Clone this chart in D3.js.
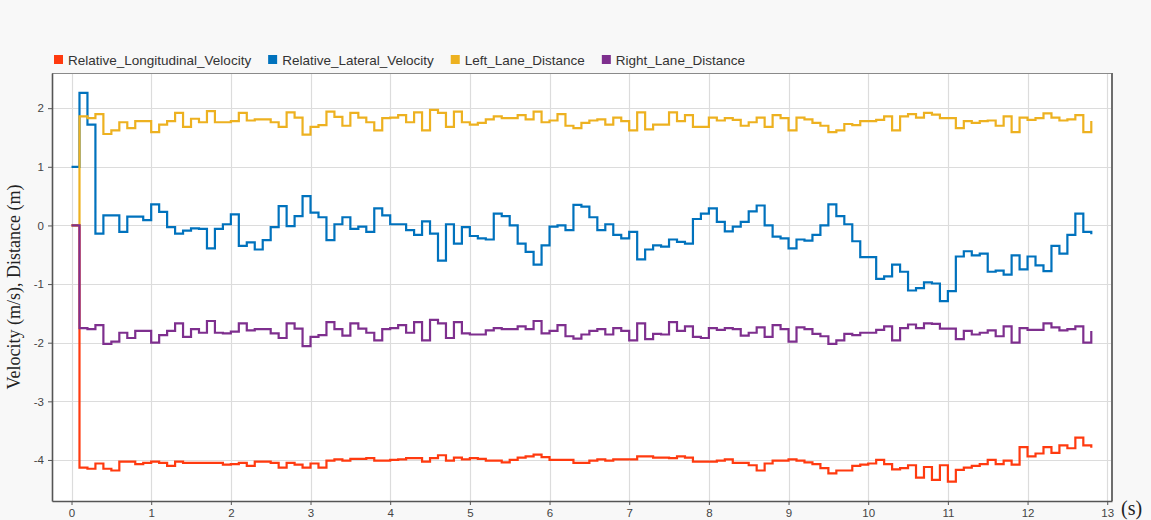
<!DOCTYPE html>
<html>
<head>
<meta charset="utf-8">
<script src="https://cdn.jsdelivr.net/npm/d3@7"></script>
<style>
  html, body { margin: 0; padding: 0; background: #f8f8f8; }
  svg { display: block; }
</style>
</head>
<body>
<svg id="chart" width="1151" height="520"></svg>
<script>
// Sample period of the logged signals (s)
const sampleTime = 0.1;

const seriesNames = ["Relative_Longitudinal_Velocity", "Relative_Lateral_Velocity", "Left_Lane_Distance", "Right_Lane_Distance"];
const seriesColors = ["#ff3a0f", "#0072bd", "#edb120", "#7e2f8e"];

const longitudinalVelocity = [
  0, -4.13, -4.15, -4.06, -4.15, -4.18, -4.03, -4.03, -4.07, -4.05,
  -4.03, -4.05, -4.10, -4.03, -4.05, -4.05, -4.05, -4.05, -4.05, -4.08,
  -4.07, -4.05, -4.10, -4.03, -4.03, -4.05, -4.13, -4.05, -4.08, -4.13,
  -4.06, -4.13, -4.01, -3.99, -4.01, -3.98, -3.98, -3.97, -4.01, -4.01,
  -4.00, -3.99, -3.97, -3.97, -4.03, -3.97, -3.92, -4.01, -3.96, -3.99,
  -3.97, -3.98, -4.01, -4.01, -4.04, -4.00, -3.96, -3.94, -3.91, -3.95,
  -4.00, -4.00, -4.00, -4.05, -4.05, -4.01, -3.99, -4.01, -3.99, -3.99,
  -3.99, -3.94, -3.94, -3.96, -3.96, -3.97, -3.94, -3.96, -4.03, -4.03,
  -4.03, -4.01, -3.99, -4.05, -4.05, -4.09, -4.18, -4.06, -4.01, -4.01,
  -3.99, -4.01, -4.04, -4.07, -4.14, -4.23, -4.18, -4.18, -4.10, -4.08,
  -4.06, -4.00, -4.07, -4.16, -4.14, -4.09, -4.30, -4.12, -4.34, -4.09,
  -4.37, -4.17, -4.13, -4.10, -4.07, -4.00, -4.07, -4.01, -4.08, -3.78,
  -3.94, -3.89, -3.78, -3.88, -3.75, -3.80, -3.62, -3.75, -3.79
];

const lateralVelocity = [
  1.00, 2.26, 1.72, -0.14, 0.17, 0.17, -0.11, 0.15, 0.15, 0.09,
  0.36, 0.23, -0.03, -0.14, -0.09, -0.05, -0.06, -0.39, -0.06, 0.02,
  0.19, -0.35, -0.29, -0.41, -0.25, -0.03, 0.33, -0.01, 0.16, 0.50,
  0.22, 0.14, -0.25, 0.02, 0.14, -0.06, -0.02, -0.11, 0.29, 0.17,
  0.02, 0.02, -0.08, -0.16, 0.07, -0.14, -0.60, 0.02, -0.31, -0.03,
  -0.18, -0.22, -0.24, 0.20, 0.16, 0.00, -0.31, -0.45, -0.67, -0.34,
  -0.02, 0.00, -0.08, 0.35, 0.32, 0.14, -0.08, 0.02, -0.16, -0.22,
  -0.11, -0.58, -0.41, -0.34, -0.36, -0.24, -0.28, -0.31, 0.11, 0.20,
  0.29, 0.06, -0.10, -0.02, 0.06, 0.24, 0.34, 0.00, -0.19, -0.22,
  -0.39, -0.24, -0.26, -0.16, 0.00, 0.36, 0.16, 0.02, -0.27, -0.54,
  -0.54, -0.91, -0.87, -0.67, -0.79, -1.11, -1.07, -0.97, -0.99, -1.29,
  -1.12, -0.53, -0.44, -0.51, -0.48, -0.79, -0.77, -0.84, -0.51, -0.75,
  -0.53, -0.68, -0.78, -0.35, -0.48, -0.16, 0.20, -0.11, -0.15
];

const leftLaneDistance = [
  0, 1.86, 1.83, 1.90, 1.56, 1.62, 1.76, 1.66, 1.78, 1.78,
  1.59, 1.72, 1.78, 1.92, 1.68, 1.82, 1.76, 1.95, 1.76, 1.76,
  1.78, 1.92, 1.79, 1.81, 1.81, 1.76, 1.68, 1.93, 1.84, 1.55,
  1.68, 1.71, 1.94, 1.85, 1.70, 1.92, 1.84, 1.76, 1.62, 1.83,
  1.84, 1.88, 1.76, 1.93, 1.62, 1.97, 1.92, 1.68, 1.94, 1.76,
  1.72, 1.75, 1.81, 1.86, 1.83, 1.83, 1.88, 1.81, 1.94, 1.76,
  1.79, 1.90, 1.70, 1.66, 1.75, 1.79, 1.81, 1.72, 1.84, 1.78,
  1.62, 1.93, 1.64, 1.72, 1.72, 1.93, 1.78, 1.88, 1.68, 1.68,
  1.84, 1.79, 1.83, 1.80, 1.70, 1.76, 1.84, 1.68, 1.88, 1.83,
  1.62, 1.84, 1.81, 1.75, 1.70, 1.59, 1.62, 1.73, 1.71, 1.78,
  1.78, 1.80, 1.86, 1.62, 1.86, 1.90, 1.84, 1.92, 1.89, 1.83,
  1.83, 1.66, 1.78, 1.75, 1.78, 1.79, 1.70, 1.86, 1.59, 1.84,
  1.80, 1.83, 1.91, 1.84, 1.79, 1.81, 1.88, 1.59, 1.78
];

const rightLaneDistance = [
  0, -1.75, -1.77, -1.70, -2.02, -1.98, -1.83, -1.92, -1.80, -1.80,
  -2.00, -1.87, -1.80, -1.67, -1.90, -1.77, -1.83, -1.63, -1.83, -1.84,
  -1.81, -1.67, -1.79, -1.77, -1.77, -1.84, -1.92, -1.67, -1.76, -2.06,
  -1.90, -1.87, -1.65, -1.77, -1.88, -1.67, -1.76, -1.83, -1.96, -1.77,
  -1.75, -1.70, -1.83, -1.65, -1.96, -1.61, -1.67, -1.92, -1.65, -1.84,
  -1.86, -1.86, -1.79, -1.75, -1.77, -1.77, -1.72, -1.77, -1.63, -1.84,
  -1.80, -1.70, -1.89, -1.93, -1.86, -1.80, -1.77, -1.86, -1.75, -1.80,
  -1.96, -1.67, -1.94, -1.85, -1.86, -1.65, -1.80, -1.72, -1.90, -1.92,
  -1.75, -1.78, -1.75, -1.77, -1.88, -1.83, -1.74, -1.90, -1.70, -1.77,
  -1.98, -1.74, -1.77, -1.85, -1.89, -2.02, -1.96, -1.85, -1.87, -1.83,
  -1.83, -1.78, -1.72, -1.96, -1.75, -1.69, -1.75, -1.67, -1.68, -1.76,
  -1.76, -1.94, -1.80, -1.86, -1.83, -1.79, -1.89, -1.72, -2.00, -1.75,
  -1.78, -1.78, -1.67, -1.74, -1.79, -1.77, -1.72, -2.00, -1.80
];

const xTicks = [0, 1, 2, 3, 4, 5, 6, 7, 8, 9, 10, 11, 12, 13];
const yTicks = [-4, -3, -2, -1, 0, 1, 2];
const yLabel = "Velocity (m/s), Distance (m)";
const xLabel = "(s)";

const seriesValues = [longitudinalVelocity, lateralVelocity, leftLaneDistance, rightLaneDistance];

// Layout
const plot = { left: 52, right: 1112, top: 73, bottom: 501 };

const svg = d3.select("#chart");

const x = d3.scaleLinear().domain([-0.245, 13.06]).range([plot.left, plot.right]);
const y = d3.scaleLinear().domain([-4.70, 2.60]).range([plot.bottom, plot.top]);

// Plot background
svg.append("rect")
  .attr("x", plot.left).attr("y", plot.top)
  .attr("width", plot.right - plot.left).attr("height", plot.bottom - plot.top)
  .attr("fill", "#ffffff");

// Grid
const grid = svg.append("g").attr("stroke", "#dcdcdc").attr("stroke-width", 1.2);
grid.selectAll("line.gx").data(xTicks).join("line")
  .attr("x1", d => Math.round(x(d)) + 0.5).attr("x2", d => Math.round(x(d)) + 0.5)
  .attr("y1", plot.top).attr("y2", plot.bottom);
grid.selectAll("line.gy").data(yTicks).join("line")
  .attr("y1", d => Math.round(y(d)) + 0.5).attr("y2", d => Math.round(y(d)) + 0.5)
  .attr("x1", plot.left).attr("x2", plot.right);

// Series as step lines
const line = d3.line()
  .x((d, i) => x(i * sampleTime))
  .y(d => y(d))
  .curve(d3.curveStepAfter);

const lines = svg.append("g")
  .attr("fill", "none")
  .attr("stroke-width", 2.2)
  .attr("stroke-linejoin", "miter");
seriesValues.forEach((vals, i) => {
  lines.append("path")
    .attr("d", line(vals))
    .attr("stroke", seriesColors[i]);
});

// Frame
svg.append("line")
  .attr("x1", plot.left).attr("x2", plot.right)
  .attr("y1", plot.top + 0.5).attr("y2", plot.top + 0.5)
  .attr("stroke", "#8a8a8a").attr("stroke-width", 1);
svg.append("line")
  .attr("x1", plot.right).attr("x2", plot.right)
  .attr("y1", plot.top).attr("y2", plot.bottom)
  .attr("stroke", "#6e6e6e").attr("stroke-width", 2);

// Axes
const fmt = d => String(d);
const xAxis = d3.axisBottom(x).tickValues(xTicks).tickSizeInner(4).tickSizeOuter(0).tickPadding(4).tickFormat(fmt);
const yAxis = d3.axisLeft(y).tickValues(yTicks).tickSizeInner(4).tickSizeOuter(0).tickPadding(4).tickFormat(fmt);

const gx = svg.append("g").attr("transform", `translate(0,${plot.bottom})`).call(xAxis);
const gy = svg.append("g").attr("transform", `translate(${plot.left},0)`).call(yAxis);

[gx, gy].forEach(g => {
  g.select(".domain").attr("stroke", "#555").attr("stroke-width", 1.6);
  g.selectAll(".tick line").attr("stroke", "#555");
  g.selectAll(".tick text")
    .attr("fill", "#444")
    .style("font-family", "'Liberation Sans', Arial, sans-serif")
    .style("font-size", "11.5px");
});

// Axis titles
svg.append("text")
  .attr("transform", `translate(20,${(plot.top + plot.bottom) / 2}) rotate(-90)`)
  .attr("text-anchor", "middle")
  .attr("fill", "#222")
  .style("font-family", "'Liberation Serif', 'Times New Roman', serif")
  .style("font-size", "18px")
  .text(yLabel);

svg.append("text")
  .attr("x", 1121).attr("y", 515)
  .attr("fill", "#222")
  .style("font-family", "'Liberation Serif', 'Times New Roman', serif")
  .style("font-size", "20px")
  .text(xLabel);

// Legend: swatch, label, then a gap before the next entry
const legend = svg.append("g").attr("transform", "translate(54,55)");
let lx = 0;
seriesNames.forEach((name, i) => {
  const item = legend.append("g").attr("transform", `translate(${lx},0)`);
  item.append("rect")
    .attr("x", 0).attr("y", 0).attr("width", 9).attr("height", 9)
    .attr("fill", seriesColors[i]);
  const t = item.append("text")
    .attr("x", 14).attr("y", 9.5)
    .attr("fill", "#333")
    .style("font-family", "'Liberation Sans', Arial, sans-serif")
    .style("font-size", "13.5px")
    .text(name);
  lx += 14 + t.node().getComputedTextLength() + 17;
});
</script>
</body>
</html>
